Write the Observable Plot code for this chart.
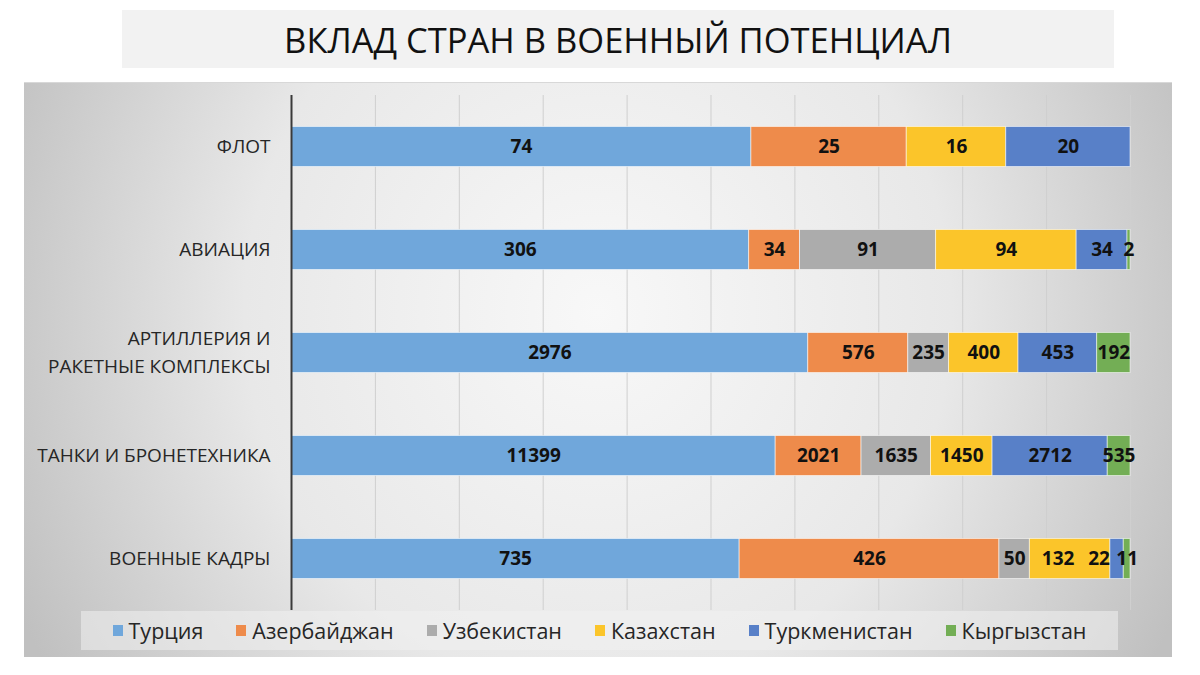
<!DOCTYPE html>
<html>
<head>
<meta charset="utf-8">
<script src="https://cdn.jsdelivr.net/npm/d3@7"></script>
<script src="https://cdn.jsdelivr.net/npm/@observablehq/plot@0.6"></script>
<style>
  html, body { margin: 0; padding: 0; background: #ffffff; }
  #wrap { position: relative; width: 1200px; height: 675px; overflow: hidden; font-family: "Open Sans", sans-serif; }
  #title { position: absolute; left: 122px; top: 10px; width: 992px; height: 58px; background: #f2f2f2;
           display: flex; align-items: center; justify-content: center; font-size: 34.5px; color: #111; }
  #panel { position: absolute; left: 24px; top: 82px; width: 1148px; height: 575px;
           background: radial-gradient(ellipse 56% 120% at 50% 40%, #f8f8f8 0%, #e8e8e8 55%, #c0c0c0 100%);
           border-top: 1px solid #d8d8d8; box-sizing: border-box; }
  #chart { position: absolute; left: 0; top: 0; }
  #legend { position: absolute; left: 81px; top: 611px; width: 1037px; height: 39px; background: rgba(240,240,240,0.55);
            display: flex; align-items: center; justify-content: center; gap: 33px; font-size: 21.5px; color: #262626; }
  .item { display: flex; align-items: center; gap: 6px; }
  .sw { width: 10px; height: 11px; display: inline-block; }
</style>
</head>
<body>
<div id="wrap">
  <div id="panel"></div>
  <div id="title">ВКЛАД СТРАН В ВОЕННЫЙ ПОТЕНЦИАЛ</div>
  <div id="chart"></div>
  <div id="legend"></div>
</div>
<script>
const categories = ["ФЛОТ", "АВИАЦИЯ", "АРТИЛЛЕРИЯ И\nРАКЕТНЫЕ КОМПЛЕКСЫ", "ТАНКИ И БРОНЕТЕХНИКА", "ВОЕННЫЕ КАДРЫ"];
const countries = ["Турция", "Азербайджан", "Узбекистан", "Казахстан", "Туркменистан", "Кыргызстан"];
const turkey       = [74, 306, 2976, 11399, 735];
const azerbaijan   = [25, 34, 576, 2021, 426];
const uzbekistan   = [0, 91, 235, 1635, 50];
const kazakhstan   = [16, 94, 400, 1450, 132];
const turkmenistan = [20, 34, 453, 2712, 22];
const kyrgyzstan   = [0, 2, 192, 535, 11];
const colors = ["#70a7db", "#ee8b4b", "#acacac", "#fbc52a", "#5880c8", "#73ae55"];

const series = [turkey, azerbaijan, uzbekistan, kazakhstan, turkmenistan, kyrgyzstan];
const rows = [];
categories.forEach((c, i) => {
  countries.forEach((k, j) => rows.push({category: c, country: k, value: series[j][i]}));
});

// crowded labels in the last row are nudged left, as in the original
const inCadres = d => d.category === "ВОЕННЫЕ КАДРЫ";
const isShiftedA = d => inCadres(d) && d.country === "Туркменистан";
const isShiftedB = d => inCadres(d) && d.country === "Казахстан";
const stackOpts = (extra) => Plot.stackX({x: "value", y: "category", z: "country", offset: "normalize", ...extra});
const labelStyle = {fontSize: 19, fontWeight: "bold", fill: "#111"};

const chart = Plot.plot({
  width: 1200,
  height: 675,
  marginTop: 95,
  marginBottom: 65,
  marginLeft: 291,
  marginRight: 70,
  style: {background: "transparent", fontFamily: "Open Sans, sans-serif", overflow: "visible"},
  x: {domain: [0, 1], axis: null},
  y: {domain: categories, padding: 0, label: null},
  color: {domain: countries, range: colors},
  marks: [
    Plot.gridX({ticks: 10, stroke: "#cfcfcf", strokeOpacity: 1, strokeWidth: 1}),
    Plot.barX(rows, stackOpts({fill: "country", insetTop: 31.5, insetBottom: 31.5, stroke: "#ffffff", strokeOpacity: 0.55, strokeWidth: 1})),
    Plot.text(rows, stackOpts({text: d => (d.value > 0 && !isShiftedA(d) && !isShiftedB(d)) ? String(d.value) : null, ...labelStyle})),
    Plot.text(rows, stackOpts({text: d => isShiftedA(d) ? String(d.value) : null, dx: -18, ...labelStyle})),
    Plot.text(rows, stackOpts({text: d => isShiftedB(d) ? String(d.value) : null, dx: -12, ...labelStyle})),
    Plot.ruleX([0], {stroke: "#3a3a3a", strokeWidth: 2}),
    Plot.axisY({tickSize: 0, tickPadding: 21, dy: -3, fontSize: 19, lineHeight: 1.45, fill: "#262626", label: null})
  ]
});
document.getElementById("chart").appendChild(chart);

const legend = document.getElementById("legend");
countries.forEach((k, j) => {
  const it = document.createElement("div");
  it.className = "item";
  const sw = document.createElement("span");
  sw.className = "sw";
  sw.style.background = colors[j];
  const t = document.createElement("span");
  t.textContent = k;
  it.appendChild(sw);
  it.appendChild(t);
  legend.appendChild(it);
});
</script>
</body>
</html>
